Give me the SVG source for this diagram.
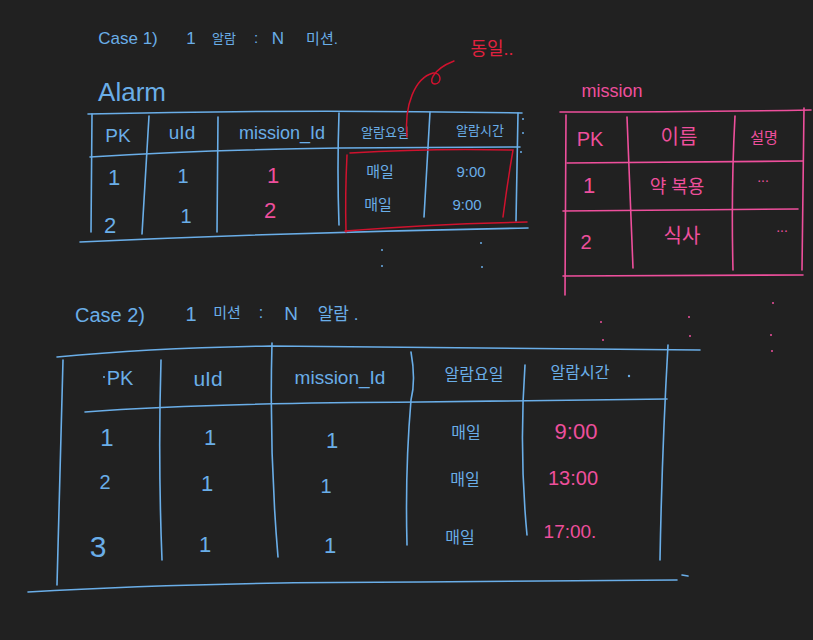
<svg xmlns="http://www.w3.org/2000/svg" width="813" height="640" viewBox="0 0 813 640">
<style>
.b{fill:none;stroke:#6aaee8;stroke-width:1.6;stroke-linecap:round}
.p{fill:none;stroke:#ee4f9c;stroke-width:1.6;stroke-linecap:round}
.r{fill:none;stroke:#d0122e;stroke-width:1.5;stroke-linecap:round}
text{font-family:"Liberation Sans","Noto Sans CJK KR",sans-serif;text-anchor:middle}
.tb{fill:#6aaee8}
.tp{fill:#ee4f9c}
.tr{fill:#e0213f}
.db{fill:#6aaee8}
.dp{fill:#ee4f9c}
</style>
<rect width="813" height="640" fill="#212121"/>

<g id="case1-title">
<text class="tb" x="128" y="44" font-size="17">Case 1)</text>
<text class="tb" x="191" y="44" font-size="17">1</text>
<text class="tb" x="224" y="43" font-size="13">알람</text>
<text class="tb" x="256" y="43" font-size="15">:</text>
<text class="tb" x="278" y="44" font-size="17">N</text>
<text class="tb" x="322" y="44" font-size="15">미션.</text>
</g>

<g id="alarm-label">
<text class="tb" x="132" y="101" font-size="26">Alarm</text>
</g>

<g id="note-same">
<text class="tr" x="492" y="55" font-size="18">동일..</text>
</g>

<g id="alarm-table-1">
<path class="b" d="M88,114 Q300,109 522,113"/>
<path class="b" d="M92,114 L91,232"/>
<path class="b" d="M90,157 Q200,150 340,148 L520,147"/>
<path class="b" d="M80,242 Q300,232 528,228"/>
<path class="b" d="M149,116 L142,234"/>
<path class="b" d="M218,117 L217,232"/>
<path class="b" d="M339,113 Q337,170 339,225"/>
<path class="b" d="M430,112 L424,217"/>
<path class="b" d="M518,113 L516,221"/>
<text class="tb" x="118" y="142" font-size="19">PK</text>
<text class="tb" x="182" y="139" font-size="19">uId</text>
<text class="tb" x="282" y="139" font-size="18">mission_Id</text>
<text class="tb" x="385" y="137" font-size="13">알람요일</text>
<text class="tb" x="480" y="135" font-size="13">알람시간</text>
<text class="tb" x="114" y="185" font-size="22">1</text>
<text class="tb" x="183" y="183" font-size="20">1</text>
<text class="tp" x="273" y="183" font-size="22">1</text>
<text class="tb" x="380" y="177" font-size="15">매일</text>
<text class="tb" x="471" y="177" font-size="15">9:00</text>
<text class="tb" x="110" y="233" font-size="22">2</text>
<text class="tb" x="186" y="223" font-size="20">1</text>
<text class="tp" x="270" y="218" font-size="22">2</text>
<text class="tb" x="378" y="210" font-size="15">매일</text>
<text class="tb" x="467" y="210" font-size="15">9:00</text>
<circle class="db" cx="523" cy="119" r="1"/>
<circle class="db" cx="523" cy="133" r="1"/>
<circle class="db" cx="521" cy="152" r="1"/>
<circle class="db" cx="481" cy="243" r="1"/>
<circle class="db" cx="482" cy="267" r="1"/>
<circle class="db" cx="382" cy="250" r="1"/>
<circle class="db" cx="382" cy="266" r="1"/>
</g>

<g id="mission-label">
<text class="tp" x="612" y="97" font-size="18">mission</text>
</g>

<g id="mission-table">
<path class="p" d="M560,112 Q690,112 811,110"/>
<path class="p" d="M566,115 L565,295"/>
<path class="p" d="M627,117 Q630,190 633,268"/>
<path class="p" d="M735,116 Q731,190 733,270"/>
<path class="p" d="M804,108 L802,270"/>
<path class="p" d="M567,163 L803,161"/>
<path class="p" d="M563,211 L798,209"/>
<path class="p" d="M563,276 L803,275"/>
<text class="tp" x="590" y="146" font-size="20">PK</text>
<text class="tp" x="679" y="144" font-size="20">이름</text>
<text class="tp" x="764" y="143" font-size="15">설명</text>
<text class="tp" x="589" y="193" font-size="22">1</text>
<text class="tp" x="677" y="193" font-size="18">약 복용</text>
<text class="tp" x="763" y="182" font-size="14">...</text>
<text class="tp" x="586" y="249" font-size="20">2</text>
<text class="tp" x="682" y="243" font-size="20">식사</text>
<text class="tp" x="782" y="232" font-size="14">...</text>
<circle class="dp" cx="773" cy="303" r="1"/>
<circle class="dp" cx="771" cy="335" r="1"/>
<circle class="dp" cx="772" cy="351" r="1"/>
<circle class="dp" cx="689" cy="317" r="1"/>
<circle class="dp" cx="690" cy="336" r="1"/>
<circle class="dp" cx="601" cy="322" r="1"/>
<circle class="dp" cx="603" cy="340" r="1"/>
</g>

<g id="case2-title">
<text class="tb" x="110" y="322" font-size="20">Case 2)</text>
<text class="tb" x="191" y="321" font-size="20">1</text>
<text class="tb" x="227" y="318" font-size="15">미션</text>
<text class="tb" x="261" y="318" font-size="16">:</text>
<text class="tb" x="291" y="320" font-size="19">N</text>
<text class="tb" x="338" y="320" font-size="17">알람 .</text>
</g>

<g id="alarm-table-2">
<path class="b" d="M57,357 Q150,348 270,346 L700,350"/>
<path class="b" d="M63,360 Q60,470 57,585"/>
<path class="b" d="M161,360 Q158,460 162,560"/>
<path class="b" d="M272,343 Q269,450 278,557"/>
<path class="b" d="M411,352 Q416,380 411,400 Q405,470 407,545"/>
<path class="b" d="M525,365 Q519,450 527,535"/>
<path class="b" d="M668,345 Q662,450 660,560"/>
<path class="b" d="M85,412 Q200,403 420,402 L667,399"/>
<path class="b" d="M28,592 Q200,582 420,582 L677,580"/>
<path class="b" d="M682,575 L688,576"/>
<text class="tb" x="120" y="385" font-size="20">PK</text>
<circle class="db" cx="104" cy="377" r="1"/>
<text class="tb" x="208" y="386" font-size="21">uId</text>
<text class="tb" x="340" y="384" font-size="19">mission_Id</text>
<text class="tb" x="474" y="380" font-size="16">알람요일</text>
<text class="tb" x="580" y="378" font-size="16">알람시간</text>
<circle class="db" cx="629" cy="376" r="1.2"/>
<text class="tb" x="107" y="446" font-size="24">1</text>
<text class="tb" x="210" y="445" font-size="22">1</text>
<text class="tb" x="332" y="448" font-size="22">1</text>
<text class="tb" x="466" y="438" font-size="16">매일</text>
<text class="tp" x="576" y="439" font-size="22">9:00</text>
<text class="tb" x="105" y="489" font-size="20">2</text>
<text class="tb" x="207" y="491" font-size="22">1</text>
<text class="tb" x="326" y="493" font-size="20">1</text>
<text class="tb" x="465" y="485" font-size="16">매일</text>
<text class="tp" x="573" y="485" font-size="20">13:00</text>
<text class="tb" x="98" y="557" font-size="30">3</text>
<text class="tb" x="205" y="552" font-size="22">1</text>
<text class="tb" x="330" y="553" font-size="22">1</text>
<text class="tb" x="460" y="543" font-size="16">매일</text>
<text class="tp" x="570" y="538" font-size="19">17:00.</text>
</g>

<g id="connectors">
<path class="r" d="M350,153 Q430,148 513,150 Q507,185 503,217"/>
<path class="r" d="M347,155 Q345,195 346,232"/>
<path class="r" d="M345,231 Q430,224 527,222"/>
<path class="r" d="M407,137 C404,105 415,78 433,73 C442,72 442,84 435,84 C428,84 431,70 454,61"/>
</g>
</svg>
